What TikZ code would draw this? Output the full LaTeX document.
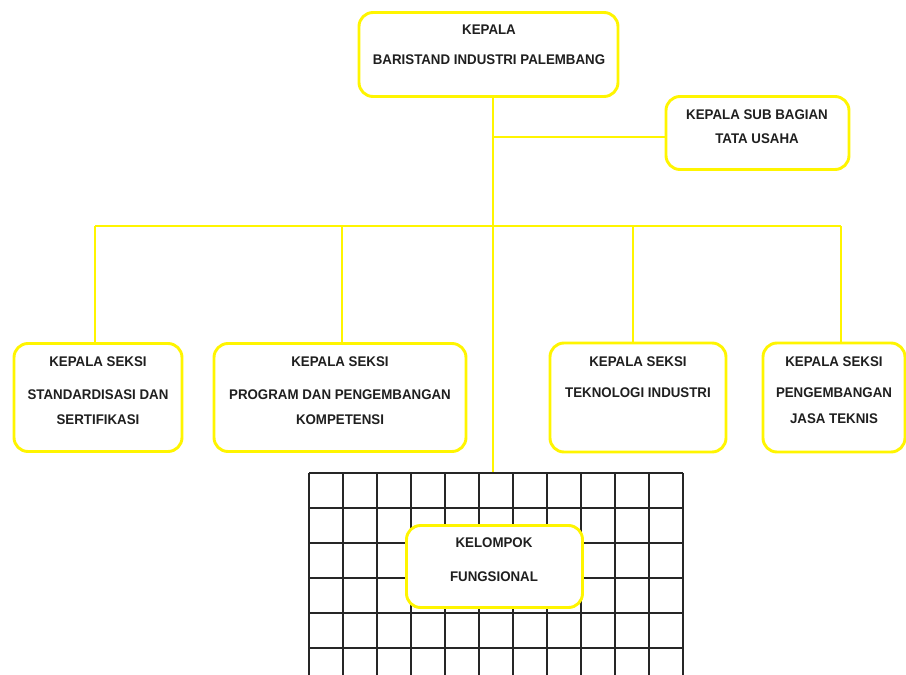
\documentclass[tikz,border=0pt]{standalone}
\usepackage{fontspec}
\setmainfont{Liberation Sans}
\newfontfamily\lblfont{Liberation Sans Bold}[FakeStretch=0.95]
\definecolor{kuning}{RGB}{255,245,0}
\tikzset{
  orgbox/.style={draw=kuning, line width=2.9pt, rounded corners=14pt, fill=white, inner sep=0pt},
  lbl/.style={font=\lblfont\fontsize{14}{16}\selectfont, inner sep=0pt, anchor=center, text=black!88},
  conn/.style={draw=kuning, line width=2.8pt},
  gridline/.style={draw=black!85, line width=1.2pt}
}
\begin{document}
\begin{tikzpicture}[x=1pt,y=-1pt]
\useasboundingbox (0,0) rectangle (906,675);
\fill[white] (0,0) rectangle (906,675);
% grid
\begin{scope}
\clip (0,0) rectangle (906,675);
\foreach \i in {0,...,11} {
  \draw[gridline] ({309+34*\i},473) -- ({309+34*\i},680);
}
\foreach \j in {0,...,5} {
  \draw[gridline] (309,{473+35*\j}) -- (683,{473+35*\j});
}
\end{scope}
% coordinates
\coordinate (gridtop) at (493,472);
\coordinate (tap) at (493,137);
\coordinate (bus) at (493,226);
\coordinate (d1) at (95,226);
\coordinate (d2) at (342,226);
\coordinate (d3) at (633,226);
\coordinate (d4) at (841,226);
% boxes
\node[orgbox, minimum width=259pt, minimum height=84pt] (top) at (488.5,54.5) {};
\node[orgbox, minimum width=183pt, minimum height=73pt] (sub) at (757.5,133) {};
\node[orgbox, minimum width=168pt, minimum height=108pt] (b1) at (98,397.5) {};
\node[orgbox, minimum width=252pt, minimum height=108pt] (b2) at (340,397.5) {};
\node[orgbox, minimum width=176pt, minimum height=109pt] (b3) at (638,397.5) {};
\node[orgbox, minimum width=142pt, minimum height=109pt] (b4) at (834,397.5) {};
% connectors
\draw[conn] (top.south -| gridtop) -- (gridtop);
\draw[conn] (tap) -- (tap -| sub.west);
\draw[conn] (d1) -- (d4);
\draw[conn] (d1) -- (d1 |- b1.north);
\draw[conn] (d2) -- (d2 |- b2.north);
\draw[conn] (d3) -- (d3 |- b3.north);
\draw[conn] (d4) -- (d4 |- b4.north);
% kelompok
\node[orgbox, minimum width=176pt, minimum height=82pt] (kf) at (494.5,566.5) {};
% texts
\node[lbl] (t1) at (489,30) {KEPALA};
\node[lbl] (t2) at (489,60) {BARISTAND INDUSTRI PALEMBANG};
\node[lbl] (s1) at (757,115) {KEPALA SUB BAGIAN};
\node[lbl] (s2) at (757,139) {TATA USAHA};
\node[lbl] (a1) at (98,362) {KEPALA SEKSI};
\node[lbl] (a2) at (98,395) {STANDARDISASI DAN};
\node[lbl] (a3) at (98,420) {SERTIFIKASI};
\node[lbl] (c1) at (340,362) {KEPALA SEKSI};
\node[lbl] (c2) at (340,395) {PROGRAM DAN PENGEMBANGAN};
\node[lbl] (c3) at (340,420) {KOMPETENSI};
\node[lbl] (e1) at (638,362) {KEPALA SEKSI};
\node[lbl] (e2) at (638,393) {TEKNOLOGI INDUSTRI};
\node[lbl] (f1) at (834,362) {KEPALA SEKSI};
\node[lbl] (f2) at (834,393) {PENGEMBANGAN};
\node[lbl] (f3) at (834,419) {JASA TEKNIS};
\node[lbl] (k1) at (494,543) {KELOMPOK};
\node[lbl] (k2) at (494,577) {FUNGSIONAL};
\end{tikzpicture}
\end{document}
